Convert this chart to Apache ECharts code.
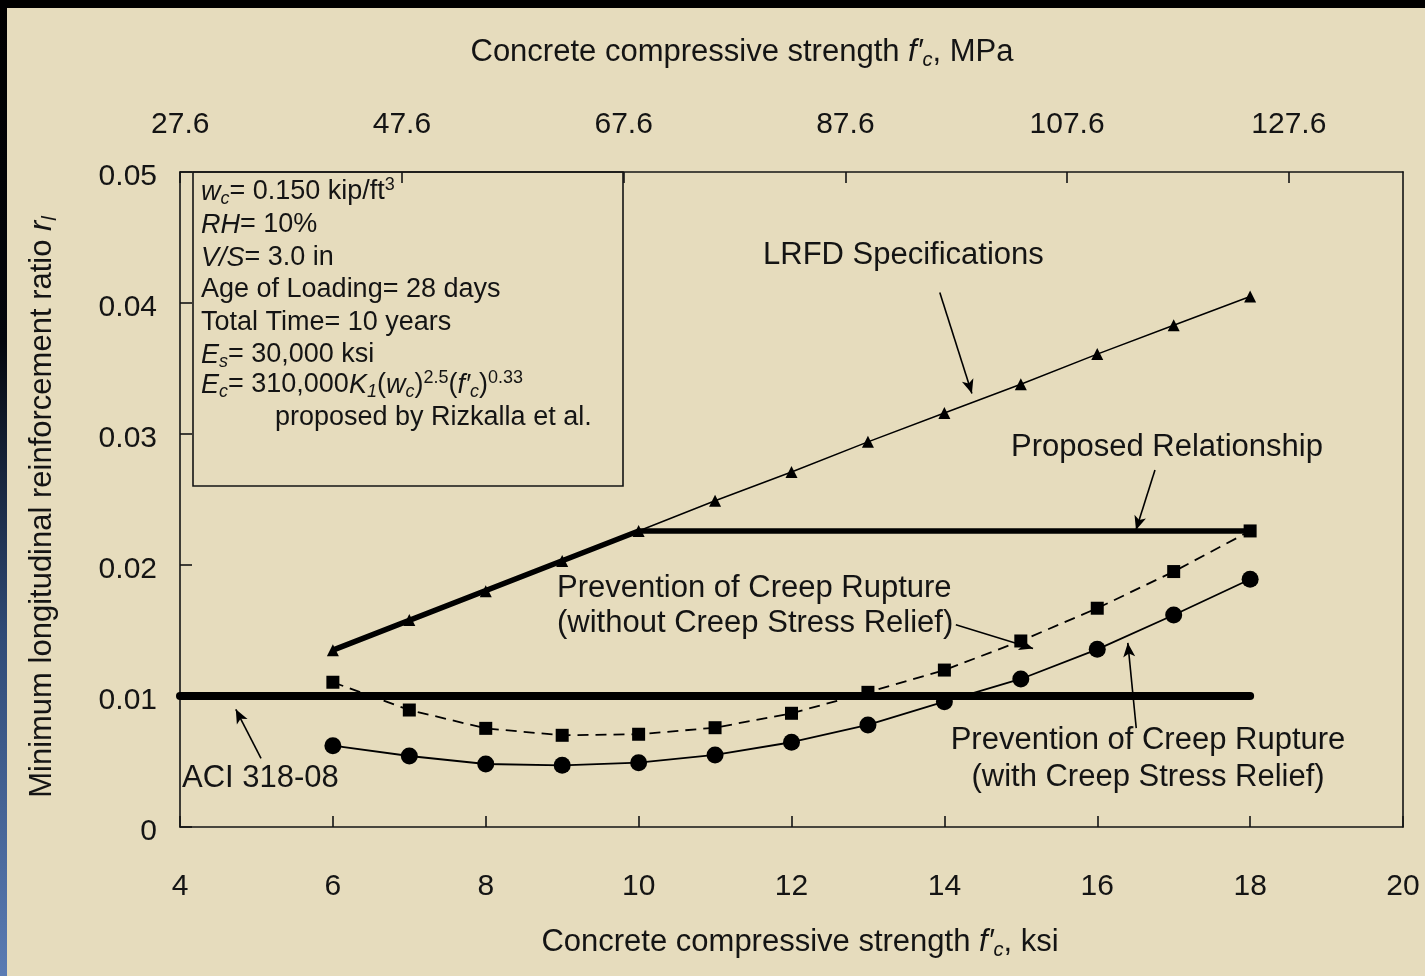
<!DOCTYPE html>
<html><head><meta charset="utf-8">
<script src="https://cdn.jsdelivr.net/npm/echarts@6/dist/echarts.min.js"></script>
<style>
html,body{margin:0;padding:0;width:1425px;height:976px;overflow:hidden;background:#000;}
#c{position:absolute;left:0;top:0;width:1425px;height:976px;
background: linear-gradient(#000,#000) 0 0/100% 8px no-repeat,
 linear-gradient(to bottom,#000 0%,#04060c 35%,#2f4a76 65%,#5a7bb3 100%) 0 0/7px 100% no-repeat,
 #e6dcbd;}
</style></head><body><div id="c"></div>
<script>
// ---- data ----
const ksi = [6, 7, 8, 9, 10, 11, 12, 13, 14, 15, 16, 17, 18];
const lrfd = [0.0135, 0.0158, 0.0180, 0.0203, 0.0226, 0.0249, 0.0271, 0.0294, 0.0316, 0.0338, 0.0361, 0.0383, 0.0405];
const withoutRelief = [0.01105, 0.00893, 0.00753, 0.00700, 0.00708, 0.00758, 0.00868, 0.01028, 0.01198, 0.0142, 0.0167, 0.0195, 0.0226];
const withRelief = [0.00621, 0.00542, 0.00481, 0.00471, 0.00491, 0.00550, 0.00647, 0.00779, 0.00957, 0.0113, 0.01356, 0.01618, 0.01891];
const proposedX = [6, 10, 18];
const proposedY = [0.0135, 0.0226, 0.0226];
const aciX = [4, 18];
const aciY = [0.01, 0.01];
const xTickLabels = [4, 6, 8, 10, 12, 14, 16, 18, 20];
const yTickLabels = [0, 0.01, 0.02, 0.03, 0.04, 0.05];
const mpaTickLabels = [27.6, 47.6, 67.6, 87.6, 107.6, 127.6];
const MPA_PER_KSI = 6.895;
// annotation arrows in data coordinates: [fromX, fromY, toX, toY]
const arrowLRFD = [13.94, 0.0408, 14.36, 0.0331];
const arrowProposed = [16.755, 0.02725, 16.507, 0.02267];
const arrowWithout = [14.15, 0.01544, 15.16, 0.01363];
const arrowWith = [16.51, 0.00755, 16.40, 0.01405];
const arrowACI = [5.06, 0.00524, 4.73, 0.00898];

const pairs = (xs, ys) => xs.map((x, i) => [x, ys[i]]);
const INK = '#141414';
const FONT = '"Liberation Sans", Arial, Helvetica, sans-serif';

const chart = echarts.init(document.getElementById('c'), null, {renderer: 'canvas'});

function arrow(a) {
  return [{coord: [a[0], a[1]], symbol: 'none'}, {coord: [a[2], a[3]], symbol: 'arrow'}];
}

const richBase = (fs) => ({
  i: {fontSize: fs, fontStyle: 'italic', fontFamily: FONT, fill: INK},
  isub: {fontSize: Math.round(fs * 0.66), fontStyle: 'italic', fontFamily: FONT, fill: INK, padding: [Math.round(fs * 0.5), 0, 0, 0]},
  sub: {fontSize: Math.round(fs * 0.66), fontFamily: FONT, fill: INK, padding: [Math.round(fs * 0.5), 0, 0, 0]},
  sup: {fontSize: Math.round(fs * 0.66), fontFamily: FONT, fill: INK, padding: [0, 0, Math.round(fs * 0.5), 0]}
});

function txt(x, y, text, fs, align, extra) {
  const style = Object.assign({
    text: text,
    font: fs + 'px ' + FONT,
    fill: INK,
    align: align || 'left', verticalAlign: 'middle',
    textAlign: align || 'left', textVerticalAlign: 'middle',
    rich: richBase(fs)
  }, extra || {});
  return {type: 'text', x: x, y: y, z: 100, silent: true, style: style};
}

const boxLines = [
  '{i|w}{isub|c}= 0.150 kip/ft{sup|3}',
  '{i|RH}= 10%',
  '{i|V/S}= 3.0 in',
  'Age of Loading= 28 days',
  'Total Time= 10 years',
  '{i|E}{isub|s}= 30,000 ksi',
  '{i|E}{isub|c}= 310,000{i|K}{isub|1}({i|w}{isub|c}){sup|2.5}({i|f\u2032}{isub|c}){sup|0.33}'
];
const boxY = [192, 225, 258, 290, 323, 355, 385];

const graphics = [
  {type: 'rect', z: 50, silent: true, shape: {x: 193, y: 172, width: 430, height: 314},
   style: {fill: 'rgba(0,0,0,0)', stroke: INK, lineWidth: 1.6}},
  txt(742, 52, 'Concrete compressive strength {i|f\u2032}{isub|c}, MPa', 31, 'center'),
  txt(800, 942, 'Concrete compressive strength {i|f\u2032}{isub|c}, ksi', 31, 'center'),
  Object.assign(txt(0, 0, 'Minimum longitudinal reinforcement ratio {i|r}{isub|l}', 31, 'center'), {x: 42, y: 507, rotation: Math.PI / 2}),
  txt(763, 255, 'LRFD Specifications', 31),
  txt(1011, 447, 'Proposed Relationship', 31),
  txt(557, 588, 'Prevention of Creep Rupture', 31),
  txt(557, 623, '(without Creep Stress Relief)', 31),
  txt(1148, 740, 'Prevention of Creep Rupture', 31, 'center'),
  txt(1148, 777, '(with Creep Stress Relief)', 31, 'center'),
  txt(182, 778, 'ACI 318-08', 31)
];
boxLines.forEach((t, k) => graphics.push(txt(201, boxY[k], t, 27)));
graphics.push(txt(275, 418, 'proposed by Rizkalla et al.', 27));

const axisLineStyle = {color: INK, width: 1.6};
const labelStyle = {color: INK, fontSize: 30, fontFamily: FONT};

chart.setOption({
  animation: false,
  backgroundColor: 'transparent',
  grid: {left: 180, right: 22, top: 172, bottom: 149, containLabel: false},
  xAxis: [
    {type: 'value', position: 'bottom', min: xTickLabels[0], max: xTickLabels[xTickLabels.length - 1], interval: 2,
     axisLine: {show: true, onZero: false, lineStyle: axisLineStyle},
     axisTick: {show: true, inside: true, length: 11, lineStyle: axisLineStyle},
     axisLabel: {...labelStyle, margin: 45, formatter: v => String(v)},
     splitLine: {show: false}},
    {type: 'value', position: 'top', min: xTickLabels[0], max: xTickLabels[xTickLabels.length - 1],
     axisLine: {show: true, onZero: false, lineStyle: axisLineStyle},
     axisTick: {show: true, inside: true, length: 11, lineStyle: axisLineStyle,
                customValues: mpaTickLabels.map(m => m / MPA_PER_KSI)},
     axisLabel: {...labelStyle, margin: 32,
                 customValues: mpaTickLabels.map(m => m / MPA_PER_KSI),
                 formatter: v => (v * MPA_PER_KSI).toFixed(1)},
     splitLine: {show: false}},
  ],
  yAxis: [
    {type: 'value', position: 'left', min: yTickLabels[0], max: yTickLabels[yTickLabels.length - 1], interval: 0.01,
     axisLine: {show: true, onZero: false, lineStyle: axisLineStyle},
     axisTick: {show: true, inside: true, length: 12, lineStyle: axisLineStyle},
     axisLabel: {...labelStyle, margin: 23,
                 rich: {d: {fontSize: 30, fontFamily: FONT, color: INK, padding: [9, 0, 0, 0]}},
                 formatter: v => '{d|' + (v === 0 ? '0' : v.toFixed(2)) + '}'},
     splitLine: {show: false}},
    {type: 'value', position: 'right', min: 0, max: 0.05, interval: 0.01,
     axisLine: {show: true, onZero: false, lineStyle: axisLineStyle},
     axisTick: {show: false}, axisLabel: {show: false}, splitLine: {show: false}}
  ],
  series: [
    {name: 'ACI 318-08', type: 'line', z: 2, data: pairs(aciX, aciY), symbol: 'none',
     lineStyle: {color: '#000', width: 8, cap: 'round'}, silent: true},
    {name: 'Proposed Relationship', type: 'line', z: 3, data: pairs(proposedX, proposedY), symbol: 'none',
     lineStyle: {color: '#000', width: 5.5}, silent: true},
    {name: 'LRFD Specifications', type: 'line', z: 4, data: pairs(ksi, lrfd), symbol: 'triangle', symbolSize: 12,
     showAllSymbol: true, itemStyle: {color: '#000'}, lineStyle: {color: '#000', width: 1.5}, silent: true,
     markLine: {silent: true, symbol: ['none', 'arrow'], symbolSize: [9, 14], label: {show: false},
       lineStyle: {color: '#000', width: 1.6, type: 'solid'},
       data: [arrow(arrowLRFD), arrow(arrowProposed), arrow(arrowWithout), arrow(arrowWith), arrow(arrowACI)]}},
    {name: 'Without Creep Stress Relief', type: 'line', z: 5, data: pairs(ksi, withoutRelief), symbol: 'rect', symbolSize: 13,
     showAllSymbol: true, itemStyle: {color: '#000'}, lineStyle: {color: '#000', width: 1.8, type: [11, 7]}, silent: true},
    {name: 'With Creep Stress Relief', type: 'line', z: 6, data: pairs(ksi, withRelief), symbol: 'circle', symbolSize: 17,
     showAllSymbol: true, itemStyle: {color: '#000'}, lineStyle: {color: '#000', width: 1.8}, silent: true}
  ],
  graphic: graphics
});
</script>
</body></html>
